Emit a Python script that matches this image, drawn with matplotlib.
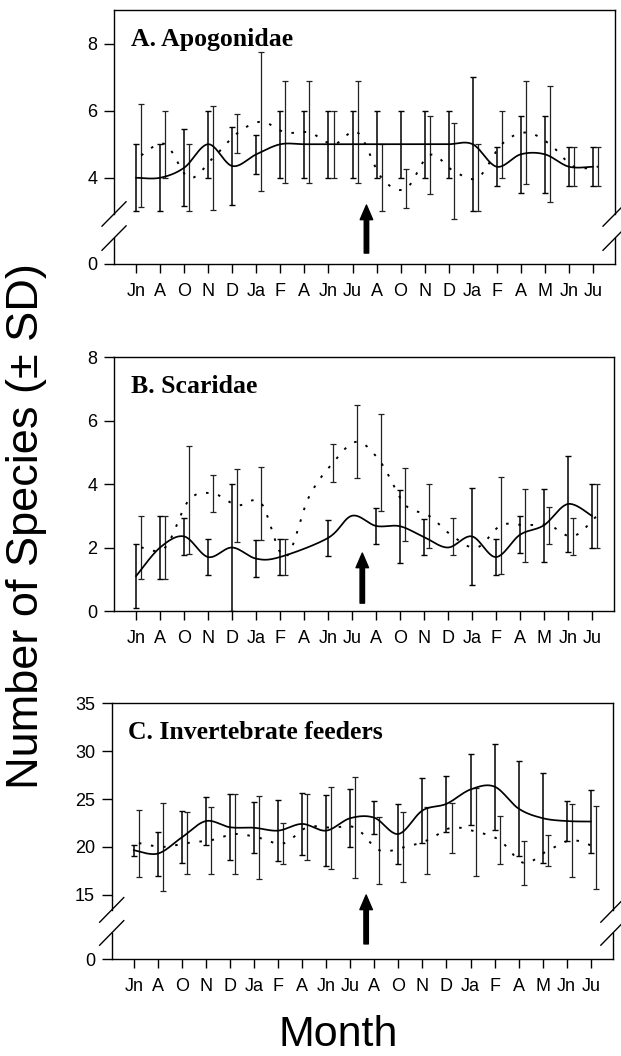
import numpy as np
import matplotlib
matplotlib.use('Agg')
import matplotlib.pyplot as plt
from matplotlib.transforms import blended_transform_factory

nan = np.nan

months = ['Jn', 'A', 'O', 'N', 'D', 'Ja', 'F', 'A', 'Jn', 'Ju',
	'A', 'O', 'N', 'D', 'Ja', 'F', 'A', 'M', 'Jn', 'Ju']

# A. Apogonidae
apo_solid = [4.0, 4.0, 4.3, 5.0, 4.35, 4.7, 5.0, 5.0, 5.0, 5.0,
	5.0, 5.0, 5.0, 5.0, 5.0, 4.33, 4.7, 4.7, 4.33, 4.33]
apo_solid_sd = [1.0, 1.0, 1.15, 1.0, 1.15, 0.58, 1.0, 1.0, 1.0, 1.0,
	1.0, 1.0, 1.0, 1.0, 2.0, 0.58, 1.15, 1.15, 0.58, 0.58]
apo_dot = [4.67, 5.0, 4.0, 4.6, 5.33, 5.67, 5.35, 5.35, 5.0, 5.35,
	4.0, 3.67, 4.68, 4.2, 4.0, 5.0, 5.35, 5.0, 4.33, 4.33]
apo_dot_sd = [1.53, 1.0, 1.0, 1.55, 0.58, 2.07, 1.52, 1.52, 1.0, 1.52,
	1.0, 0.58, 1.15, 1.43, 1.0, 1.0, 1.53, 1.73, 0.58, 0.58]

# B. Scaridae
sca_solid = [1.1, 2.0, 2.35, 1.7, 2.0, 1.65, 1.7, nan, 2.3, 3.0,
	2.68, 2.67, 2.33, 2.0, 2.35, 1.7, 2.4, 2.7, 3.37, 3.0]
sca_solid_sd = [1.0, 1.0, 0.58, 0.58, 2.0, 0.58, 0.58, nan, 0.58, nan,
	0.58, 1.15, 0.58, nan, 1.52, 0.58, 0.58, 1.15, 1.52, 1.0]
sca_dot = [2.0, 2.0, 3.5, 3.7, 3.33, 3.4, 1.7, 3.6, 4.67, 5.33,
	4.67, 3.35, 3.0, 2.35, 2.0, 2.7, 2.7, 2.7, 2.35, 3.0]
sca_dot_sd = [1.0, 1.0, 1.7, 0.58, 1.15, 1.15, 0.58, nan, 0.6, 1.15,
	1.53, 1.15, 1.0, 0.58, nan, 1.53, 1.15, 0.58, 0.58, 1.0]

# C. Invertebrate feeders
inv_solid = [19.65, 19.3, 21.0, 22.7, 22.05, 22.0, 21.7, 22.4, 21.7, 23.0,
	23.05, 21.35, 23.8, 24.5, 26.0, 26.3, 24.0, 23.0, 22.7, 22.65]
inv_solid_sd = [0.57, 2.3, 2.7, 2.5, 3.45, 2.65, 3.2, 3.2, 3.7, 3.0,
	1.75, 3.1, 3.4, 2.9, 3.7, 4.5, 5.0, 4.7, 2.05, 3.25]
inv_dot = [20.4, 20.0, 20.4, 20.7, 21.35, 20.95, 20.35, 22.05, 22.0, 22.0,
	19.65, 19.95, 20.7, 22.0, 21.6, 20.7, 18.33, 19.6, 20.7, 19.95]
inv_dot_sd = [3.5, 4.6, 3.2, 3.5, 4.15, 4.35, 2.1, 3.45, 4.3, 5.3,
	3.5, 3.65, 3.5, 2.6, 4.6, 2.5, 2.33, 1.6, 3.8, 4.35]


def smooth(xs, ys, n=24):
	# catmull-rom curve through the means (like the smoothed line option)
	pts = np.column_stack([xs, ys])
	pts = np.vstack([pts[0], pts, pts[-1]])
	t = np.linspace(0, 1, n, endpoint=False)[:, None]
	out = []
	for i in range(1, len(pts) - 2):
		p0, p1, p2, p3 = pts[i - 1], pts[i], pts[i + 1], pts[i + 2]
		seg = 0.5 * (2 * p1 + (p2 - p0) * t + (2 * p0 - 5 * p1 + 4 * p2 - p3) * t ** 2
			+ (3 * p1 - p0 - 3 * p2 + p3) * t ** 3)
		out.append(seg)
	out.append(pts[-2][None, :])
	out = np.vstack(out)
	return out[:, 0], out[:, 1]


def break_scale(knee, zero_pos):
	s = (knee - zero_pos) / knee
	xp = [-100, 0, knee, 1000]
	fp = [zero_pos - 100 * s, zero_pos, knee, 1000]
	def fwd(y):
		return np.interp(y, xp, fp)
	def inv(y):
		return np.interp(y, fp, xp)
	return fwd, inv


def add_break(ax, hi, lo):
	# hide side spines and redraw them in two pieces with the // marks
	ax.spines['left'].set_visible(False)
	ax.spines['right'].set_visible(False)
	kw = dict(transform=ax.transAxes, color='black', lw=1.0, clip_on=False)
	for xs in (0.0, 1.0):
		ax.plot([xs, xs], [1.0, hi], **kw)
		ax.plot([xs, xs], [lo, 0.0], **kw)
		for yc in (hi, lo):
			ax.plot([xs - 0.024, xs + 0.024], [yc - 0.048, yc + 0.048], **kw)


def draw_panel(ax, title, s_mean, s_sd, d_mean, d_sd):
	x = np.arange(len(months))
	xd = x + 0.21
	s_mean = np.array(s_mean)
	d_mean = np.array(d_mean)
	ax.errorbar(x, s_mean, yerr=s_sd, fmt='none', ecolor='black',
		elinewidth=1.1, capsize=2.3, capthick=1.0)
	ax.errorbar(xd, d_mean, yerr=d_sd, fmt='none', ecolor='#222222',
		elinewidth=0.9, capsize=2.3, capthick=0.9)
	m = ~np.isnan(s_mean)
	cx, cy = smooth(x[m], s_mean[m])
	ax.plot(cx, cy, color='black', lw=1.25)
	m = ~np.isnan(d_mean)
	cx, cy = smooth(xd[m], d_mean[m])
	ax.plot(cx, cy, color='black', lw=1.4, linestyle=(0, (1.3, 5.0)))

	ax.set_xlim(-0.92, 19.92)
	ax.set_xticks(x)
	ax.set_xticklabels(months)
	ax.tick_params(axis='x', direction='out', length=6.5, width=1.0, pad=7, labelsize=13)
	ax.tick_params(axis='y', direction='out', length=7, width=1.0, pad=5, labelsize=13)
	for sp in ax.spines.values():
		sp.set_linewidth(1.0)
	ax.text(0.033, 0.86, title, transform=ax.transAxes, fontsize=18.5,
		fontfamily='Liberation Serif', fontweight='bold')


plt.rcParams['font.family'] = ['Liberation Sans', 'DejaVu Sans']

fig = plt.figure(figsize=(6.21, 10.56), dpi=100)

axA = fig.add_axes([0.1836, 0.75, 0.8068, 0.2405])
axB = fig.add_axes([0.1836, 0.4214, 0.805, 0.2405])
axC = fig.add_axes([0.1799, 0.0916, 0.807, 0.2423])

# A
axA.set_yscale('function', functions=break_scale(2.8, 1.43))
draw_panel(axA, 'A. Apogonidae', apo_solid, apo_solid_sd, apo_dot, apo_dot_sd)
axA.set_ylim(0, 9.0)
axA.set_yticks([0, 4, 6, 8])
axA.set_yticklabels(['0', '4', '6', '8'])
axA.yaxis.set_minor_locator(plt.NullLocator())
add_break(axA, 0.197, 0.102)
trA = blended_transform_factory(axA.transData, axA.transAxes)
axA.annotate('', xy=(9.58, 0.232), xytext=(9.58, 0.043), xycoords=trA, textcoords=trA,
	arrowprops=dict(facecolor='black', edgecolor='black', width=3.2, headwidth=9,
		headlength=10.5, shrink=0))

# B
draw_panel(axB, 'B. Scaridae', sca_solid, sca_solid_sd, sca_dot, sca_dot_sd)
axB.set_ylim(0, 8)
axB.set_yticks([0, 2, 4, 6, 8])
trB = blended_transform_factory(axB.transData, axB.transAxes)
axB.annotate('', xy=(9.43, 0.228), xytext=(9.43, 0.031), xycoords=trB, textcoords=trB,
	arrowprops=dict(facecolor='black', edgecolor='black', width=3.2, headwidth=9,
		headlength=10.5, shrink=0))

# C
axC.set_yscale('function', functions=break_scale(14, 8.25))
draw_panel(axC, 'C. Invertebrate feeders', inv_solid, inv_solid_sd, inv_dot, inv_dot_sd)
axC.set_ylim(0, 35)
axC.set_yticks([0, 15, 20, 25, 30, 35])
axC.set_yticklabels(['0', '15', '20', '25', '30', '35'])
axC.yaxis.set_minor_locator(plt.NullLocator())
add_break(axC, 0.193, 0.103)
trC = blended_transform_factory(axC.transData, axC.transAxes)
axC.annotate('', xy=(9.66, 0.251), xytext=(9.66, 0.06), xycoords=trC, textcoords=trC,
	arrowprops=dict(facecolor='black', edgecolor='black', width=3.2, headwidth=9,
		headlength=10.5, shrink=0))

fig.text(0.043, 0.502, 'Number of Species (\u00b1 SD)', rotation=90, fontsize=32.5,
	ha='center', va='center')
fig.text(0.545, 0.02, 'Month', fontsize=31, ha='center', va='center')

fig.savefig('out.png', dpi=100)
